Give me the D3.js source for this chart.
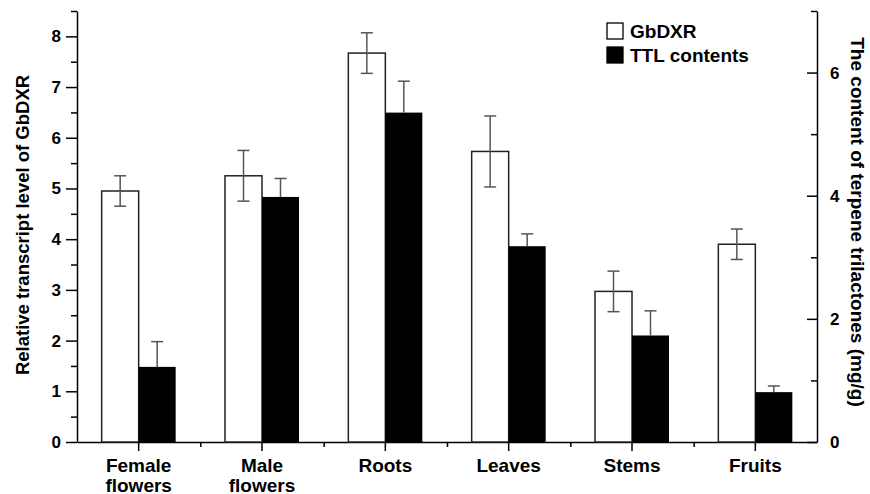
<!DOCTYPE html>
<html>
<head>
<meta charset="utf-8">
<script src="https://cdn.jsdelivr.net/npm/d3@7"></script>
<style>
  body { margin: 0; background: #fff; }
  svg { display: block; font-family: "Liberation Sans", Arial, sans-serif; font-weight: bold; }
  .tick text { font-size: 17px; font-weight: bold; fill: #000; }
  .domain, .tick line { stroke: #000; stroke-width: 1.5; }
</style>
</head>
<body>
<svg width="870" height="494"></svg>
<script>
// Tissue categories
let tissues = ["Female flowers", "Male flowers", "Roots", "Leaves", "Stems", "Fruits"];

// GbDXR relative transcript level (left axis)
let dxrValues = [4.95, 5.25, 7.67, 5.73, 2.97, 3.90];
let dxrErrors = [0.30, 0.50, 0.40, 0.70, 0.40, 0.30];

// TTL contents, mg/g (right axis)
let ttlValues = [1.22, 3.98, 5.35, 3.18, 1.73, 0.81];
let ttlErrors = [0.41, 0.30, 0.51, 0.20, 0.40, 0.10];

// Tick labels
let leftTicks = [0, 1, 2, 3, 4, 5, 6, 7, 8];
let rightTicks = [0, 2, 4, 6];

let margin = { left: 77, right: 53, top: 11, bottom: 52 };
let svg = d3.select('svg');
let W = +svg.attr('width'), H = +svg.attr('height');
let w = W - margin.left - margin.right;
let h = H - margin.top - margin.bottom;

let g = svg.append('g').attr('transform', `translate(${margin.left},${margin.top})`);

// Scales
let xScale = d3.scaleBand().domain(tissues).range([0, w]).padding(0);
let yLeft = d3.scaleLinear().domain([0, 8.5]).range([h, 0]);
let yRight = d3.scaleLinear().domain([0, 7]).range([h, 0]);
let barW = xScale.bandwidth() * 0.3;

// Minor ticks first
let leftMinor = d3.range(0, 8.51, 0.5).filter(v => v % 1 !== 0);
g.append('g')
  .call(d3.axisLeft(yLeft).tickValues(leftMinor).tickSize(6).tickFormat(''))
  .call(a => a.select('.domain').remove());
g.append('g')
  .attr('transform', `translate(${w},0)`)
  .call(d3.axisLeft(yRight).tickValues([1, 3, 5, 7]).tickSize(6).tickFormat(''))
  .call(a => a.select('.domain').remove());
let xMinor = tissues.slice(1).map(d => xScale(d));
g.append('g')
  .attr('transform', `translate(0,${h})`)
  .call(d3.axisBottom(d3.scaleLinear().domain([0, w]).range([0, w])).tickValues(xMinor).tickSize(5).tickFormat(''))
  .call(a => a.select('.domain').remove());

// Left axis
g.append('g')
  .call(d3.axisLeft(yLeft).tickValues(leftTicks).tickSize(11).tickPadding(5).tickSizeOuter(0).tickFormat(d3.format('d')));

// Right axis (ticks point inward)
let rAxis = g.append('g')
  .attr('transform', `translate(${w},0)`)
  .call(d3.axisLeft(yRight).tickValues(rightTicks).tickSize(10).tickSizeOuter(0).tickFormat(d3.format('d')));
rAxis.selectAll('.tick text').attr('x', 13).attr('text-anchor', 'start');

// Bottom axis
let xAxis = g.append('g')
  .attr('transform', `translate(0,${h})`)
  .call(d3.axisBottom(xScale).tickSize(9).tickSizeOuter(0).tickFormat(''));
xAxis.selectAll('.tick').each(function (d) {
  let words = d.split(' ');
  let t = d3.select(this).append('text')
    .attr('y', 29.5)
    .attr('text-anchor', 'middle')
    .style('font-size', '19px');
  words.forEach((word, i) => {
    t.append('tspan').attr('x', 0).attr('dy', i === 0 ? 0 : 20).text(word);
  });
});

// White bars (GbDXR)
g.selectAll('.dxr')
  .data(tissues)
  .enter()
  .append('rect')
  .attr('class', 'dxr')
  .attr('x', d => xScale(d) + xScale.bandwidth() / 2 - barW)
  .attr('y', (d, i) => yLeft(dxrValues[i]))
  .attr('width', barW)
  .attr('height', (d, i) => h - yLeft(dxrValues[i]))
  .style('fill', '#fff')
  .style('stroke', '#222')
  .style('stroke-width', 1.5);

// Black bars (TTL)
g.selectAll('.ttl')
  .data(tissues)
  .enter()
  .append('rect')
  .attr('class', 'ttl')
  .attr('x', d => xScale(d) + xScale.bandwidth() / 2)
  .attr('y', (d, i) => yRight(ttlValues[i]))
  .attr('width', barW)
  .attr('height', (d, i) => h - yRight(ttlValues[i]))
  .style('fill', '#000');

// Error bars
function errorBar(cx, yTop, yBot) {
  let e = g.append('g').style('stroke', '#555').style('stroke-width', 1.5);
  e.append('line').attr('x1', cx).attr('x2', cx).attr('y1', yTop).attr('y2', yBot);
  e.append('line').attr('x1', cx - 6).attr('x2', cx + 6).attr('y1', yTop).attr('y2', yTop);
  e.append('line').attr('x1', cx - 6).attr('x2', cx + 6).attr('y1', yBot).attr('y2', yBot);
}
tissues.forEach((d, i) => {
  let c = xScale(d) + xScale.bandwidth() / 2;
  errorBar(c - barW / 2, yLeft(dxrValues[i] + dxrErrors[i]), yLeft(dxrValues[i] - dxrErrors[i]));
  // only the upper half shows above a black bar
  let e = g.append('g').style('stroke', '#555').style('stroke-width', 1.5);
  let cx = c + barW / 2;
  e.append('line').attr('x1', cx).attr('x2', cx)
    .attr('y1', yRight(ttlValues[i] + ttlErrors[i])).attr('y2', yRight(ttlValues[i]));
  e.append('line').attr('x1', cx - 6).attr('x2', cx + 6)
    .attr('y1', yRight(ttlValues[i] + ttlErrors[i])).attr('y2', yRight(ttlValues[i] + ttlErrors[i]));
});

// Axis titles
svg.append('text')
  .text('Relative transcript level of GbDXR')
  .attr('transform', 'translate(29,225) rotate(-90)')
  .attr('text-anchor', 'middle')
  .style('font-size', '18.5px');

svg.append('text')
  .text('The content of terpene trilactones (mg/g)')
  .attr('transform', 'translate(851,222) rotate(90)')
  .attr('text-anchor', 'middle')
  .style('font-size', '19px');

// Legend
let legendData = [
  { fill: '#fff', text: 'GbDXR' },
  { fill: '#000', text: 'TTL contents' }
];
let legend = svg.append('g').attr('transform', 'translate(607,23)');
legend.selectAll('rect')
  .data(legendData)
  .enter()
  .append('rect')
  .attr('x', 0)
  .attr('y', (d, i) => i * 24)
  .attr('width', 16)
  .attr('height', 16)
  .style('fill', d => d.fill)
  .style('stroke', '#000')
  .style('stroke-width', 1.3);
legend.selectAll('text')
  .data(legendData)
  .enter()
  .append('text')
  .text(d => d.text)
  .attr('x', 23)
  .attr('y', (d, i) => i * 24 + 15)
  .style('font-size', '19px');
</script>
</body>
</html>
